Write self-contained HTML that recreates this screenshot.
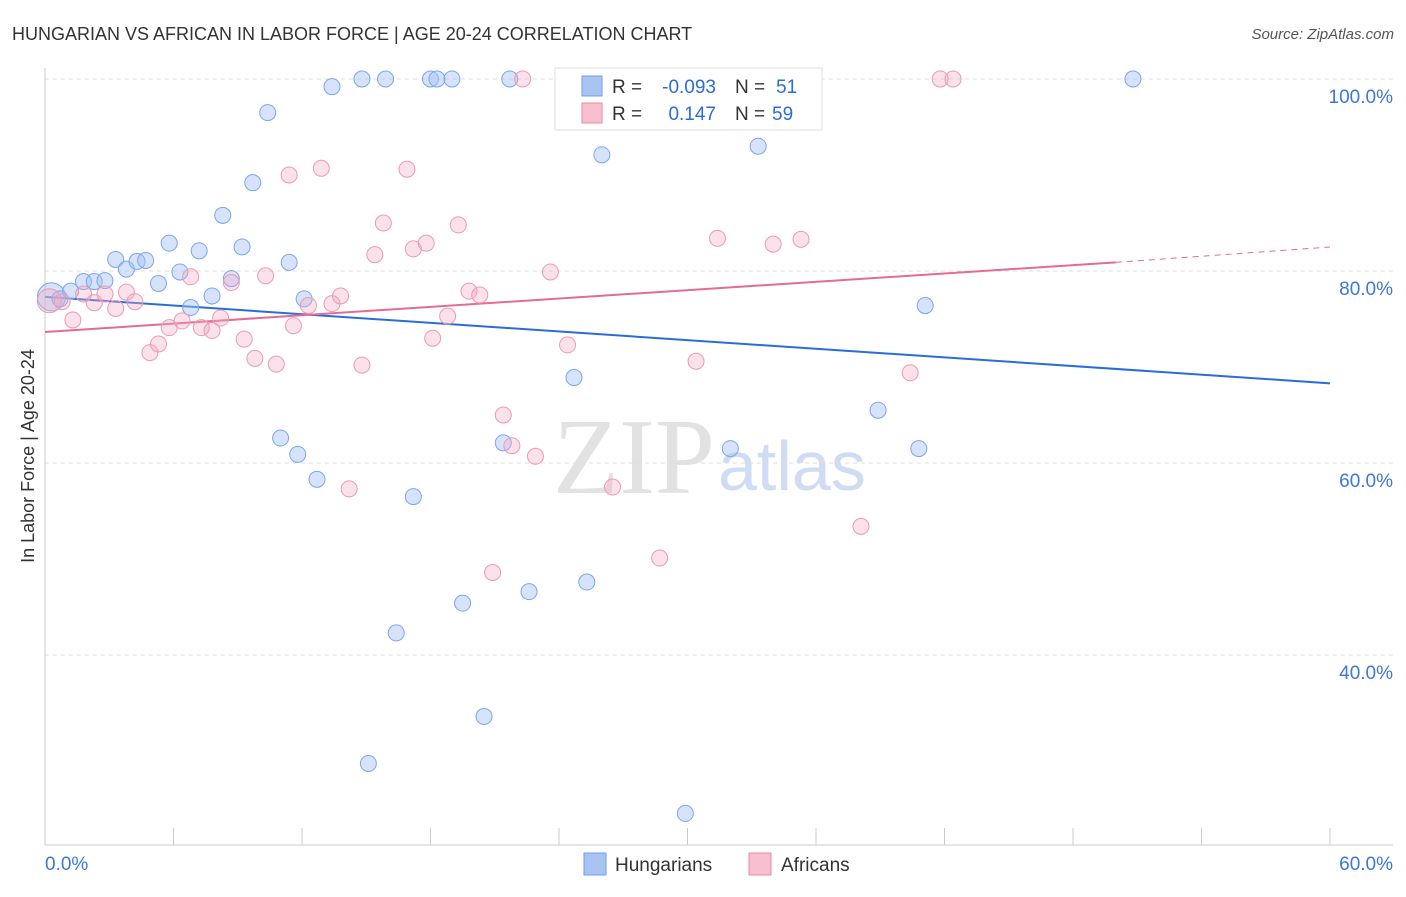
<!DOCTYPE html>
<html><head><meta charset="utf-8"><style>
body{margin:0;background:#fff;font-family:"Liberation Sans",sans-serif;}
svg text{font-family:"Liberation Sans",sans-serif;}
</style></head><body>
<svg id="chart" width="1406" height="892">
<text x="12" y="40" font-size="18" fill="#333">HUNGARIAN VS AFRICAN IN LABOR FORCE | AGE 20-24 CORRELATION CHART</text>
<text x="1394" y="39" font-size="15" fill="#555" font-style="italic" text-anchor="end">Source: ZipAtlas.com</text>
<text x="553" y="493" font-size="108" fill="#e2e2e2" style="font-family:'Liberation Serif',serif">ZIP</text>
<text x="718" y="490" font-size="70" fill="#cfdcf3">atlas</text>
<g id="grid"></g>
<g id="axes"></g>
<g id="trends"></g>
<g id="points"></g>
<text transform="translate(34,456) rotate(-90)" font-size="18" fill="#333" text-anchor="middle">In Labor Force | Age 20-24</text>
<g>
<rect x="555" y="68" width="267" height="62" fill="#fff" stroke="#ddd"/>
<rect x="582" y="76" width="20" height="20" fill="#a9c4f0" stroke="#6d9eeb"/>
<rect x="582" y="103" width="20" height="20" fill="#f7c0cf" stroke="#e88aa8"/>
<text x="612" y="93" font-size="19" fill="#333">R =</text>
<text x="716" y="93" font-size="19" fill="#2a6dd9" text-anchor="end">-0.093</text>
<text x="735" y="93" font-size="19" fill="#333">N =</text>
<text x="776" y="93" font-size="19" fill="#2a6dd9">51</text>
<text x="612" y="120" font-size="19" fill="#333">R =</text>
<text x="716" y="120" font-size="19" fill="#2a6dd9" text-anchor="end">0.147</text>
<text x="735" y="120" font-size="19" fill="#333">N =</text>
<text x="772" y="120" font-size="19" fill="#2a6dd9">59</text>
</g>
<g>
<rect x="584" y="853" width="22" height="22" fill="#a9c4f0" stroke="#6d9eeb"/>
<text x="615" y="871" font-size="19" fill="#333">Hungarians</text>
<rect x="749" y="853" width="22" height="22" fill="#f7c0cf" stroke="#e88aa8"/>
<text x="781" y="871" font-size="19" fill="#333">Africans</text>
</g>
</svg>
<script>
const yTicks=[100,80,60,40];
const yTickLabels=["100.0%","80.0%","60.0%","40.0%"];
const xTicks=[0,6,12,18,24,30,36,42,48,54,60];
const hunX=[0.3,0.7,1.2,1.8,2.3,2.8,3.3,3.8,4.3,4.7,5.3,5.8,6.3,6.8,7.2,7.8,8.3,8.7,9.2,9.7,10.4,11.0,11.4,11.8,12.1,12.7,13.4,14.8,15.1,15.9,16.4,17.2,18.0,18.3,19.0,19.5,20.5,21.4,21.7,22.6,24.7,25.3,26.0,29.9,32.0,33.3,38.9,40.8,41.1,50.8,33.8];
const hunY=[77.3,77.1,77.9,78.9,78.9,79.0,81.2,80.2,81.0,81.1,78.7,82.9,79.9,76.2,82.1,77.4,85.8,79.2,82.5,89.2,96.5,62.6,80.9,60.9,77.1,58.3,99.2,100,28.7,100,42.3,56.5,100,100,100,45.4,33.6,62.1,100,46.6,68.9,47.6,92.1,23.5,61.5,93.0,65.5,61.5,76.4,100,100];
const afrX=[0.2,0.8,1.3,1.8,2.3,2.8,3.3,3.8,4.2,4.9,5.3,5.8,6.4,6.8,7.3,7.8,8.2,8.7,9.3,9.8,10.3,10.8,11.4,11.6,12.3,12.9,13.4,13.8,14.2,14.8,15.4,15.8,16.9,17.2,17.8,18.1,18.8,19.3,19.8,20.3,21.4,21.8,22.3,22.9,23.6,24.4,26.5,28.7,30.4,31.4,34.0,35.3,38.1,40.4,41.8,42.4,20.9];
const afrY=[76.9,76.8,74.9,77.6,76.7,77.6,76.1,77.8,76.8,71.5,72.4,74.1,74.8,79.4,74.1,73.8,75.1,78.8,72.9,70.9,79.5,70.3,90.0,74.3,76.4,90.7,76.6,77.4,57.3,70.2,81.7,85.0,90.6,82.3,82.9,73.0,75.3,84.8,77.9,77.5,65.0,61.8,100,60.7,79.9,72.3,57.5,50.1,70.6,83.4,82.8,83.3,53.4,69.4,100,100,48.6];
const blueTrend=[77.3,68.3];
const pinkTrend=[73.65,80.9,82.5];
const trendXs=[0,50,60];
const X=v=>45+v*(1285/60), Y=v=>79+(100-v)*9.6;
const NS="http://www.w3.org/2000/svg";
function mk(tag,attrs,parent){const e=document.createElementNS(NS,tag);for(const k in attrs)e.setAttribute(k,attrs[k]);document.getElementById(parent).appendChild(e);return e;}
yTicks.forEach((t,i)=>{
 const l=mk('line',{x1:45,x2:1393,y1:Y(t),y2:Y(t),stroke:'#ddd','stroke-dasharray':'4,4'},'grid');
 
 
 const tx=mk('text',{x:1393,y:Y(t)+24,'font-size':19,fill:'#3b78d8','text-anchor':'end'},'grid');
 tx.textContent=yTickLabels[i];
 
 
});
const ax=mk('line',{x1:45,x2:45,y1:68,y2:845,stroke:'#ccc'},'axes');


const bx=mk('line',{x1:45,x2:1393,y1:845,y2:845,stroke:'#ccc'},'axes');


xTicks.forEach(t=>{
 const l=mk('line',{x1:X(t),x2:X(t),y1:828,y2:845,stroke:'#ccc'},'axes');
 
 
});
[["0.0%",45,"start"],["60.0%",1393,"end"]].forEach(a=>{
 const t=mk('text',{x:a[1],y:870,'font-size':19,fill:'#3b78d8','text-anchor':a[2]},'axes');t.textContent=a[0];
 
 
});
const bl=mk('line',{x1:X(trendXs[0]),y1:Y(blueTrend[0]),x2:X(trendXs[2]),y2:Y(blueTrend[1]),stroke:'#2a6dd9','stroke-width':2},'trends');


const pl=mk('line',{x1:X(trendXs[0]),y1:Y(pinkTrend[0]),x2:X(trendXs[1]),y2:Y(pinkTrend[1]),stroke:'#e56b93','stroke-width':2},'trends');


const pd=mk('line',{x1:X(trendXs[1]),y1:Y(pinkTrend[1]),x2:X(trendXs[2]),y2:Y(pinkTrend[2]),stroke:'#e56b93','stroke-width':1,'stroke-dasharray':'6,5'},'trends');


hunX.forEach((x,i)=>{
 const c=mk('circle',{cx:X(x),cy:Y(hunY[i]),r:i==0?14:8,fill:'rgba(164,194,244,0.45)',stroke:'#7aa7ec','stroke-width':1},'points');
 
 
});
afrX.forEach((x,i)=>{
 const c=mk('circle',{cx:X(x),cy:Y(afrY[i]),r:i==0?12:8,fill:'rgba(244,170,192,0.35)',stroke:'#ec9ab3','stroke-width':1},'points');
 
 
});
</script>
</body></html>
